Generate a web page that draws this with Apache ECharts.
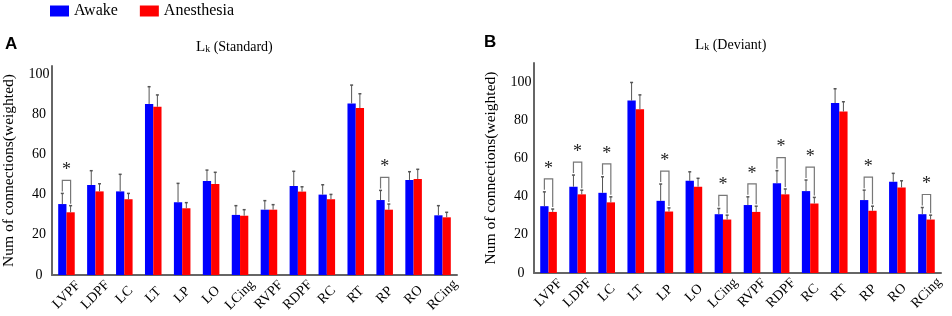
<!DOCTYPE html>
<html><head><meta charset="utf-8">
<script src="https://cdn.jsdelivr.net/npm/echarts@6/dist/echarts.min.js"></script>
<style>html,body{margin:0;padding:0;background:#fff}#c{width:952px;height:316px}</style>
</head><body><div id="c"></div>
<script>
const categories = ['LVPF','LDPF','LC','LT','LP','LO','LCing','RVPF','RDPF','RC','RT','RP','RO','RCing'];
const yTicks = [0, 20, 40, 60, 80, 100];

// Panel A: Lk (Standard)
const awakeA    = [35.3, 44.8, 41.6, 85.1, 36.2, 46.8, 29.9, 32.5, 44.3, 40.0, 85.4, 37.3, 47.3, 29.7];
const awakeErrA = [5.3, 7.1, 8.5, 8.6, 9.4, 5.4, 4.6, 4.5, 7.3, 4.9, 9.1, 4.8, 4.1, 4.8];
const anesA     = [31.2, 41.6, 37.7, 83.7, 33.2, 45.3, 29.5, 32.5, 41.5, 37.7, 83.1, 32.5, 47.8, 28.7];
const anesErrA  = [3.3, 3.8, 2.9, 5.9, 2.8, 5.8, 3.0, 2.5, 2.4, 2.4, 7.1, 2.8, 4.8, 2.5];
const sigA      = ['LVPF', 'RP'];

// Panel B: Lk (Deviant)
const awakeB    = [35.0, 45.2, 42.0, 90.3, 37.8, 48.3, 30.8, 35.6, 47.0, 42.9, 89.0, 38.2, 47.8, 30.8];
const awakeErrB = [7.5, 6.1, 8.4, 9.5, 8.8, 4.7, 3.0, 4.3, 6.6, 5.8, 7.5, 5.2, 4.4, 3.5];
const anesB     = [32.0, 41.2, 37.0, 85.8, 32.2, 45.2, 28.0, 32.0, 41.2, 36.4, 84.6, 32.6, 44.8, 28.0];
const anesErrB  = [1.5, 2.2, 2.9, 7.5, 1.9, 4.4, 2.3, 3.0, 2.8, 3.2, 5.1, 2.4, 3.5, 2.3];
const sigB      = ['LVPF','LDPF','LC','LP','LCing','RVPF','RDPF','RC','RP','RCing'];

const SERIF = '"Liberation Serif", "Times New Roman", serif';
const BAR_FRAC = 0.286;

function errData(vals, errs, side) {
  return vals.map((v, i) => [i, v, v + errs[i], side]);
}
function sigData(sig, aV, aE, nV, nE) {
  return sig.map(c => { const i = categories.indexOf(c); return [i, aV[i] + aE[i], nV[i] + nE[i]]; });
}

function renderErr(params, api) {
  const i = api.value(0);
  const side = api.value(3);
  const bandW = api.size([1, 0])[0];
  const off = side * bandW * BAR_FRAC / 2;
  const p0 = api.coord([i, api.value(1)]);
  const p1 = api.coord([i, api.value(2)]);
  const x = p0[0] + off;
  const st = { stroke: '#555', lineWidth: 1 };
  return { type: 'group', children: [
    { type: 'line', shape: { x1: x, y1: p0[1], x2: x, y2: p1[1] }, style: st },
    { type: 'line', shape: { x1: x - 1.5, y1: p1[1], x2: x + 1.5, y2: p1[1] }, style: { stroke: '#555', lineWidth: 1.5 } }
  ]};
}

function renderSig(params, api) {
  const i = api.value(0);
  const bandW = api.size([1, 0])[0];
  const off = bandW * BAR_FRAC / 2;
  const pa = api.coord([i, api.value(1)]);
  const pn = api.coord([i, api.value(2)]);
  const xl = pa[0] - off, xr = pa[0] + off;
  const top = Math.min(pa[1], pn[1]) - 13;
  const st = { stroke: '#777', lineWidth: 1.2, fill: null };
  return { type: 'group', children: [
    { type: 'polyline', shape: { points: [[xl, pa[1] - 2], [xl, top], [xr, top], [xr, pn[1] - 2]] }, style: st },
    { type: 'text', x: (xl + xr) / 2, y: top - 1, style: { text: '*', fill: '#222', font: '18px ' + SERIF, align: 'center', verticalAlign: 'bottom' } }
  ]};
}

function yAxis(grid, max) {
  return {
    type: 'value', gridIndex: grid, min: 0, max: max, interval: 20,
    name: 'Num of connections(weighted)', nameLocation: 'middle', nameGap: 35,
    nameTextStyle: { fontFamily: SERIF, fontSize: 15.5, color: '#000' },
    axisLine: { show: true, lineStyle: { color: '#666', width: 2 } },
    axisTick: { show: false }, splitLine: { show: false },
    axisLabel: { color: '#000', fontFamily: SERIF, fontSize: 14, margin: 13, align: 'center',
      formatter: v => yTicks.indexOf(v) >= 0 ? String(v) : '' }
  };
}
function xAxis(grid) {
  return {
    type: 'category', gridIndex: grid, data: categories,
    axisLine: { lineStyle: { color: '#666', width: 2 } },
    axisTick: { show: false },
    axisLabel: { rotate: 45, align: 'center', verticalAlign: 'middle', margin: 20, interval: 0,
      color: '#000', fontFamily: SERIF, fontSize: 14 }
  };
}
function bar(name, data, color, idx) {
  return { name: name, type: 'bar', xAxisIndex: idx, yAxisIndex: idx, data: data,
    barWidth: (BAR_FRAC * 100) + '%', barGap: '0%', itemStyle: { color: color } };
}

const richTitle = {
  L: { fontFamily: SERIF, fontSize: 15, fontWeight: 'normal', color: '#000' },
  k: { fontFamily: SERIF, fontSize: 10, fontWeight: 'normal', color: '#000', padding: [4, 0, 0, 0] },
  t: { fontFamily: SERIF, fontSize: 14, fontWeight: 'normal', color: '#000' }
};

const chart = echarts.init(document.getElementById('c'));
chart.setOption({
  animation: false,
  backgroundColor: '#fff',
  title: [
    { text: 'A', left: 5, top: 36, padding: 0, textStyle: { fontFamily: 'Arial, "Liberation Sans", sans-serif', fontWeight: 'bold', fontSize: 17, color: '#000' } },
    { text: 'B', left: 484, top: 34, padding: 0, textStyle: { fontFamily: 'Arial, "Liberation Sans", sans-serif', fontWeight: 'bold', fontSize: 17, color: '#000' } },
    { text: '{L|L}{k|k}{t| (Standard)}', left: 196, top: 40, padding: 0,
      textStyle: { fontWeight: 'normal', rich: richTitle } },
    { text: '{L|L}{k|k}{t| (Deviant)}', left: 695, top: 38, padding: 0,
      textStyle: { fontWeight: 'normal', rich: richTitle } }
  ],
  legend: {
    data: ['Awake', 'Anesthesia'], left: 50, top: 3, padding: 0, itemWidth: 19, itemHeight: 11, itemGap: 22,
    icon: 'rect', textStyle: { fontFamily: SERIF, fontSize: 16, color: '#000' }
  },
  grid: [
    { left: 49, right: 495, top: 66, bottom: 41, containLabel: false },
    { left: 534, right: 11, top: 63, bottom: 43, containLabel: false }
  ],
  xAxis: [xAxis(0), xAxis(1)],
  yAxis: [yAxis(0, 104), yAxis(1, 110)],
  series: [
    bar('Awake', awakeA, '#0000FF', 0),
    bar('Anesthesia', anesA, '#FF0000', 0),
    bar('Awake', awakeB, '#0000FF', 1),
    bar('Anesthesia', anesB, '#FF0000', 1),
    { type: 'custom', xAxisIndex: 0, yAxisIndex: 0, renderItem: renderErr, data: errData(awakeA, awakeErrA, -1).concat(errData(anesA, anesErrA, 1)), z: 5 },
    { type: 'custom', xAxisIndex: 1, yAxisIndex: 1, renderItem: renderErr, data: errData(awakeB, awakeErrB, -1).concat(errData(anesB, anesErrB, 1)), z: 5 },
    { type: 'custom', xAxisIndex: 0, yAxisIndex: 0, renderItem: renderSig, data: sigData(sigA, awakeA, awakeErrA, anesA, anesErrA), z: 6 },
    { type: 'custom', xAxisIndex: 1, yAxisIndex: 1, renderItem: renderSig, data: sigData(sigB, awakeB, awakeErrB, anesB, anesErrB), z: 6 }
  ]
});
</script>
</body></html>
